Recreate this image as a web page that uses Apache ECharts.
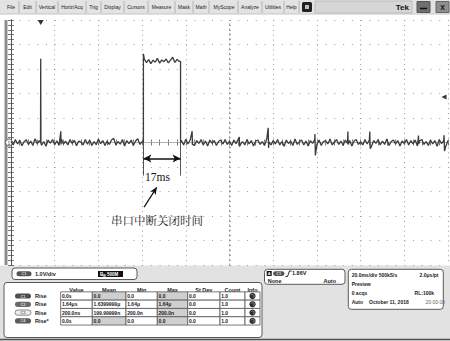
<!DOCTYPE html>
<html>
<head>
<meta charset="utf-8">
<script src="https://cdn.jsdelivr.net/npm/echarts@6/dist/echarts.min.js"></script>
<style>
  html, body { margin: 0; padding: 0; background: #ffffff; }
  #scope { width: 450px; height: 341px; }
</style>
</head>
<body>
<div id="scope"></div>
<script>
// ---- Channel 1 record: one sample per ms, 20 ms/div, 1 V/div ----
const sampleStepMs = 1;
const ch1Volts = [
  0.05,-0.10,0.12,-0.06,0.09,-0.13,0.03,0.11,-0.08,0.06,
  -0.12,0.15,-0.05,0.08,-0.11,0.04,-0.15,0.10,-0.03,0.12,
  -0.09,0.07,-0.12,0.14,-0.06,0.05,-0.10,0.12,-0.04,0.09,
  -0.13,0.06,0.02,-0.10,0.12,-0.07,0.10,-0.12,0.04,-0.09,
  0.14,-0.05,0.08,-0.12,0.06,-0.08,0.10,0.17,-0.10,0.04,
  -0.07,0.12,-0.14,0.08,-0.05,0.10,-0.12,0.06,0.15,-0.08,
  0.04,3.42,3.26,3.38,3.22,3.36,3.28,3.44,3.24,3.37,
  3.30,3.41,3.25,3.36,3.48,3.27,3.39,3.31,0.08,-0.10,
  0.13,-0.06,0.10,0.05,-0.12,0.08,-0.04,0.12,-0.10,0.06,
  -0.14,0.10,-0.03,0.08,-0.12,0.04,0.10,-0.06,0.12,-0.08,
  0.06,-0.12,0.10,-0.05,0.14,-0.08,0.04,-0.10,0.12,-0.06,
  0.08,-0.14,0.06,0.10,-0.08,0.04,-0.12,0.12,0.02,-0.10,
  0.08,-0.06,0.12,-0.10,0.04,-0.15,0.10,-0.04,0.06,-0.12,
  0.14,-0.08,0.04,0.10,-0.10,0.06,-0.14,0.08,-0.04,0.12,
  -0.08,0.10,-0.12,0.04,0.08,-0.06,0.14,-0.10,0.02,0.12,
  -0.08,0.06,-0.12,0.10,-0.04,0.08,-0.14,0.06,0.12,-0.08,
  0.04,-0.10,0.12,-0.06,0.10,-0.15,0.08,-0.04,0.12,-0.10,
  0.06,-0.08,0.14,-0.12,0.04,0.10,-0.06,0.08,-0.14,0.06,
  -0.04,0.12,-0.10,0.08,-0.06,0.10,-0.14,0.06,0.12,-0.08,
  0.04,-0.12,0.10,-0.06,0.08,-0.15,0.12,-0.04,0.06,-0.16,
  0.08
];
// short glitches between samples [ms, V]
const ch1Glitches = [
  [13.5,0.02],[13.6,3.42],[13.7,-0.03],
  [22.8,0.46],[22.9,-0.08],
  [82.9,0.46],[83.0,-0.08],
  [104.5,0.22],[104.6,-0.16],
  [117.7,0.6],[117.9,-0.22],
  [139.1,0.35],[139.3,-0.53],
  [154.2,0.45],[154.3,-0.08],
  [164.2,0.45],[164.4,-0.25],
  [186.5,0.28],[186.6,-0.06],
  [198.2,0.3],[198.4,-0.35]
];
// interrupt-disabled window: rising and falling edge times (ms) and the levels around each edge (V)
const pulseEdgesMs = [60.6, 77.6];
const pulseEdgeLevels = [[0.0, 3.62], [3.31, 0.0]];

// trigger settings
const triggerMs = 13.6;
const triggerLevelV = 1.86;

// annotation anchors (ms, V)
const spanArrowV = -0.65;
const cursorDropV = -1.35;
const spanLabelAt = [67.0, -1.40];
const noteArrowFrom = [60.9, -2.64];
const noteArrowTo = [66.7, -1.83];
const noteLabelAt = [66.8, -3.16];
const noteText = '串口中断关闭时间';

// menu bar
const menuItems = ['File','Edit','Vertical','Horiz/Acq','Trig','Display','Cursors','Measure','Mask','Math','MyScope','Analyze','Utilities','Help'];

// measurement table
const measureHeaders = ['Value','Mean','Min','Max','St Dev','Count','Info'];
const measureSources = ['C1','C2','C3','C4'];
const measureNames = ['Rise','Rise','Rise','Rise*'];
const measureValue = ['0.0s','1.64\u03bcs','200.0ns','0.0s'];
const measureMean = ['0.0','1.6399999\u03bc','199.99999n','0.0'];
const measureMin = ['0.0','1.64\u03bc','200.0n','0.0'];
const measureMax = ['0.0','1.64\u03bc','200.0n','0.0'];
const measureStDev = ['0.0','0.0','0.0','0.0'];
const measureCount = ['1.0','1.0','1.0','1.0'];

// status readouts
const chScale = '1.0V/div';
const bwLimit = '500M';
const trigSource = 'C1';
const trigCoupling = 'None';
const trigMode = 'Auto';
const hScale = '20.0ms/div 500kS/s';
const hRes = '2.0\u03bcs/pt';
const acqState = 'Preview';
const acqCount = '0 acqs';
const recLen = 'RL:100k';
const runMode = 'Auto';
const dateText = 'October 11, 2018';
const timeText = '20:00:00';

// ---- build the trace ----
const edgePts = [];
pulseEdgesMs.forEach((t, i) => {
  edgePts.push([t, pulseEdgeLevels[i][0]], [t, pulseEdgeLevels[i][1]]);
});
const traceData = ch1Volts.map((v, i) => [i * sampleStepMs, v])
  .concat(ch1Glitches, edgePts)
  .sort((a, b) => a[0] - b[0]);
const spanText = Math.round(pulseEdgesMs[1] - pulseEdgesMs[0]) + 'ms';

// ---- screen furniture ----
const UI = 'Liberation Sans, Arial, sans-serif';
const G = [];
function rect(x, y, w, h, fill, stroke, r, lw) {
  G.push({ type: 'rect', silent: true, shape: { x, y, width: w, height: h, r: r || 0 },
    style: { fill: fill, stroke: stroke || null, lineWidth: lw || 1 } });
}
function line(x1, y1, x2, y2, stroke, lw) {
  G.push({ type: 'line', silent: true, shape: { x1, y1, x2, y2 }, style: { stroke, lineWidth: lw || 1 } });
}
function text(x, y, s, o) {
  G.push({ type: 'text', silent: true, style: Object.assign({
    x, y, text: s, font: 'bold 5.5px ' + UI, fill: '#222',
    textAlign: 'left', textVerticalAlign: 'middle' }, o || {}) });
}
function pill(x, y, w, h, label, fill, txt, stroke) {
  rect(x, y, w, h, fill, stroke || null, h / 2);
  text(x + w / 2, y + h / 2, label, { font: 'bold 4px ' + UI, fill: txt, textAlign: 'center' });
}

// menu bar
rect(0, 0, 450, 14, '#e3e3e3');
line(0, 14, 450, 14, '#c4c4c4');
const menuCenters = [11, 27.5, 47, 72, 93.5, 112.5, 136, 161.5, 184, 201, 224, 250, 273, 291.5];
const menuSeps = [19, 36, 58, 86, 101, 124, 148, 175, 193, 209, 238, 262, 284, 299];
menuItems.forEach((m, i) => text(menuCenters[i], 7, m, { font: '5px ' + UI, fill: '#222', textAlign: 'center' }));
menuSeps.forEach(x => line(x, 1, x, 13, '#b4b4b4'));
rect(302, 2, 10, 10, '#202020', null, 1.5);
rect(305, 5, 4, 4, '#bdbdbd');
rect(315, 1, 97, 12, '#d6d6d6', '#bcbcbc');
text(409, 7, 'Tek', { font: 'bold 8px ' + UI, fill: '#111', textAlign: 'right' });
rect(417, 1.5, 13, 11, '#6f6f6f', '#555');
line(420, 8.5, 427, 8.5, '#111', 1.5);
rect(436, 1.5, 13, 11, '#8e8e8e', '#666');
text(442.5, 7, 'X', { font: 'bold 7px ' + UI, fill: '#111', textAlign: 'center' });

// left channel strip
rect(4.5, 20, 3, 245, '#8c8c8c');

// bottom panel
rect(0, 265.5, 450, 75.5, '#e2e2e2');
line(0, 339.5, 450, 339.5, '#505050', 1.5);

// vertical readout
rect(12, 268, 125, 11.5, '#ffffff', '#5a5a5a', 3);
pill(16.5, 271.2, 15, 5, 'C1', '#555555', '#d8d8d8');
text(35, 273.8, chScale);
rect(98, 271, 25, 6, '#111111');
text(100, 274, 'B', { font: 'bold 4.5px ' + UI, fill: '#fff' });
text(103, 275.3, 'W', { font: 'bold 3px ' + UI, fill: '#fff' });
text(107, 274, bwLimit, { font: 'bold 4.5px ' + UI, fill: '#fff' });

// measurement table
rect(4, 282.5, 258, 55, '#ffffff', '#5a5a5a', 3);
const colX = [60.7, 92.3, 126, 157.3, 187.7, 220, 245, 260];
const rowY = [296, 304.3, 312.6, 320.9];
const rowH = 8.3;
const shadeMap = [[0,1,0,1,0,0],[0,0,0,1,0,0],[0,0,0,1,0,0],[0,1,0,1,0,0]];
const pillFill = ['#4e4e4e', '#6a6a6a', '#ececec', '#5a5a5a'];
const pillText = ['#d8d8d8', '#d8d8d8', '#777', '#d8d8d8'];
measureHeaders.forEach((h, c) => text((colX[c] + colX[c + 1]) / 2, 289.5, h, { textAlign: 'center' }));
const cols = [measureValue, measureMean, measureMin, measureMax, measureStDev, measureCount];
rowY.forEach((y, r) => {
  pill(15, y - 2.6, 16, 5.2, measureSources[r], pillFill[r], pillText[r], r === 2 ? '#888' : null);
  text(35, y, measureNames[r]);
  cols.forEach((col, c) => {
    rect(colX[c], y - rowH / 2, colX[c + 1] - colX[c], rowH, shadeMap[r][c] ? '#cfcfcf' : '#ffffff', '#555', 0, 0.8);
    text(colX[c] + 1.2, y, col[r], { font: 'bold 5px ' + UI });
  });
  rect(colX[6], y - rowH / 2, colX[7] - colX[6], rowH, '#ffffff', '#555', 0, 0.8);
  G.push({ type: 'circle', silent: true, shape: { cx: (colX[6] + colX[7]) / 2, cy: y, r: 3.1 }, style: { fill: '#2e2e2e' } });
  G.push({ type: 'arc', silent: true, shape: { cx: (colX[6] + colX[7]) / 2, cy: y, r: 1.6, startAngle: 3.6, endAngle: 1.2 }, style: { stroke: '#9a9a9a', fill: null, lineWidth: 0.8 } });
});

// trigger readout
rect(264.5, 269.3, 80.5, 15, '#ffffff', '#5a5a5a', 3);
rect(266.7, 271, 5, 5, '#111111');
text(269.2, 273.6, 'A', { font: 'bold 4px ' + UI, fill: '#fff', textAlign: 'center' });
pill(273, 271.2, 11.5, 4.8, trigSource, '#555555', '#d8d8d8');
G.push({ type: 'polyline', silent: true, shape: { points: [[285.5, 276.5], [287.5, 276.5], [289.5, 271], [291.5, 271]] }, style: { stroke: '#111', fill: null, lineWidth: 0.9 } });
text(292, 273.4, triggerLevelV.toFixed(2) + 'V');
text(267.7, 280.8, trigCoupling);
text(336, 280.8, trigMode, { textAlign: 'right' });

// horizontal / acquisition readout
rect(348.3, 269.3, 95, 40, '#ffffff', '#5a5a5a', 3);
text(351.7, 275, hScale, { font: 'bold 5px ' + UI });
text(438.5, 275, hRes, { font: 'bold 5px ' + UI, textAlign: 'right' });
text(351.7, 283.8, acqState, { font: 'bold 5px ' + UI });
text(351.7, 292.6, acqCount, { font: 'bold 5px ' + UI });
text(434, 292.6, recLen, { font: 'bold 5px ' + UI, textAlign: 'right' });
text(351.7, 301.6, runMode, { font: 'bold 5px ' + UI });
text(369, 301.6, dateText, { font: 'bold 5px ' + UI });
text(445, 301.6, timeText, { font: '5px ' + UI, fill: '#666', textAlign: 'right' });

// ---- chart ----
const chart = echarts.init(document.getElementById('scope'), null, { renderer: 'svg', width: 450, height: 341 });

const border = { show: true, lineStyle: { color: '#555', width: 1 } };
const noLabel = { show: false };
const rulerTick = { show: true, inside: true, length: 3, lineStyle: { color: '#555', width: 0.8 } };
const rulerMinor = { show: true, splitNumber: 5, length: 3, lineStyle: { color: '#555', width: 0.8 } };
const crossTickIn = { show: true, inside: true, length: 1.5, lineStyle: { color: '#999', width: 0.8 } };
const crossTickOut = { show: true, inside: false, length: 1.5, lineStyle: { color: '#999', width: 0.8 } };
const crossMinor = { show: true, splitNumber: 5, length: 1.5, lineStyle: { color: '#999', width: 0.8 } };

const plot = { left: 11, right: 2, top: 20, bottom: 76, show: false };

chart.setOption({
  animation: false,
  backgroundColor: '#ffffff',
  graphic: G,
  grid: [plot, Object.assign({}, plot)],
  xAxis: [
    { gridIndex: 0, type: 'value', min: 0, max: 200, interval: 20, position: 'bottom',
      axisLine: border, axisTick: rulerTick, minorTick: rulerMinor, axisLabel: noLabel,
      splitLine: { show: true, lineStyle: { color: '#9d9d9d', width: 1, type: [1, 3.9] } } },
    { gridIndex: 0, type: 'value', min: 0, max: 200, interval: 20, position: 'top',
      axisLine: border, axisTick: rulerTick, minorTick: rulerMinor, axisLabel: noLabel, splitLine: { show: false } },
    { gridIndex: 1, type: 'value', min: -100, max: 100, interval: 20,
      axisLine: { show: true, onZero: true, lineStyle: { color: '#b0b0b0', width: 1 } },
      axisTick: crossTickIn, minorTick: crossMinor, axisLabel: noLabel, splitLine: { show: false } },
    { gridIndex: 1, type: 'value', min: -100, max: 100, interval: 20,
      axisLine: { show: false, onZero: true },
      axisTick: crossTickOut, minorTick: crossMinor, axisLabel: noLabel, splitLine: { show: false } }
  ],
  yAxis: [
    { gridIndex: 0, type: 'value', min: -5, max: 5, interval: 1, position: 'left',
      axisLine: border, axisTick: rulerTick, minorTick: rulerMinor, axisLabel: noLabel,
      splitLine: { show: true, lineStyle: { color: '#9d9d9d', width: 1, type: [1, 7.74] } } },
    { gridIndex: 0, type: 'value', min: -5, max: 5, interval: 1, position: 'right',
      axisLine: border, axisTick: rulerTick, minorTick: rulerMinor, axisLabel: noLabel, splitLine: { show: false } },
    { gridIndex: 1, type: 'value', min: -5, max: 5, interval: 1,
      axisLine: { show: true, onZero: true, lineStyle: { color: '#9d9d9d', width: 1, type: [1, 3.9] } },
      axisTick: crossTickIn, minorTick: crossMinor, axisLabel: noLabel, splitLine: { show: false } },
    { gridIndex: 1, type: 'value', min: -5, max: 5, interval: 1,
      axisLine: { show: false, onZero: true },
      axisTick: crossTickOut, minorTick: crossMinor, axisLabel: noLabel, splitLine: { show: false } }
  ],
  series: [{
    name: 'CH1',
    type: 'line',
    xAxisIndex: 0,
    yAxisIndex: 0,
    data: traceData,
    showSymbol: false,
    symbol: 'none',
    silent: true,
    z: 5,
    lineStyle: { color: '#3c3c3c', width: 1.3 },
    markLine: {
      silent: true,
      animation: false,
      label: { show: false },
      symbol: ['none', 'none'],
      data: [
        [{ coord: [pulseEdgesMs[0], 0], lineStyle: { color: '#555', width: 1, type: 'solid' } },
         { coord: [pulseEdgesMs[0], cursorDropV] }],
        [{ coord: [pulseEdgesMs[1], 0], lineStyle: { color: '#555', width: 1, type: 'solid' } },
         { coord: [pulseEdgesMs[1], cursorDropV] }],
        [{ coord: [pulseEdgesMs[0], spanArrowV], symbol: 'arrow', symbolSize: [6, 8],
           lineStyle: { color: '#111', width: 1.5, type: 'solid' } },
         { coord: [pulseEdgesMs[1], spanArrowV], symbol: 'arrow', symbolSize: [6, 8] }],
        [{ coord: noteArrowFrom, symbol: 'none', lineStyle: { color: '#111', width: 1.2, type: 'solid' } },
         { coord: noteArrowTo, symbol: 'arrow', symbolSize: [5, 7] }]
      ]
    },
    markPoint: {
      silent: true,
      animation: false,
      symbol: 'circle',
      symbolSize: 0,
      data: [
        { coord: spanLabelAt, label: { show: true, position: 'inside', formatter: spanText,
            fontFamily: 'Liberation Serif, Times New Roman, serif', fontSize: 11.5, color: '#111' } },
        { coord: noteLabelAt, label: { show: true, position: 'inside', formatter: noteText,
            fontFamily: 'Noto Serif CJK SC, Noto Sans CJK SC, serif', fontWeight: 'normal', fontSize: 11.5, color: '#1a1a1a' } },
        { coord: [triggerMs, 5], symbol: 'triangle', symbolSize: [6, 5], symbolRotate: 180,
          symbolOffset: [0, 2.5], itemStyle: { color: '#333' }, label: { show: false } },
        { coord: [200, triggerLevelV], symbol: 'triangle', symbolSize: [5, 5], symbolRotate: 90,
          symbolOffset: [-4, 0], itemStyle: { color: '#333' }, label: { show: false } },
        { coord: [0, 0], symbol: 'circle', symbolSize: 7, symbolOffset: [-2, 0],
          itemStyle: { color: '#ffffff', borderColor: '#555', borderWidth: 1 },
          label: { show: true, position: 'inside', formatter: '1', fontSize: 5, color: '#333', fontFamily: UI } }
      ]
    }
  }]
});
</script>
</body>
</html>
